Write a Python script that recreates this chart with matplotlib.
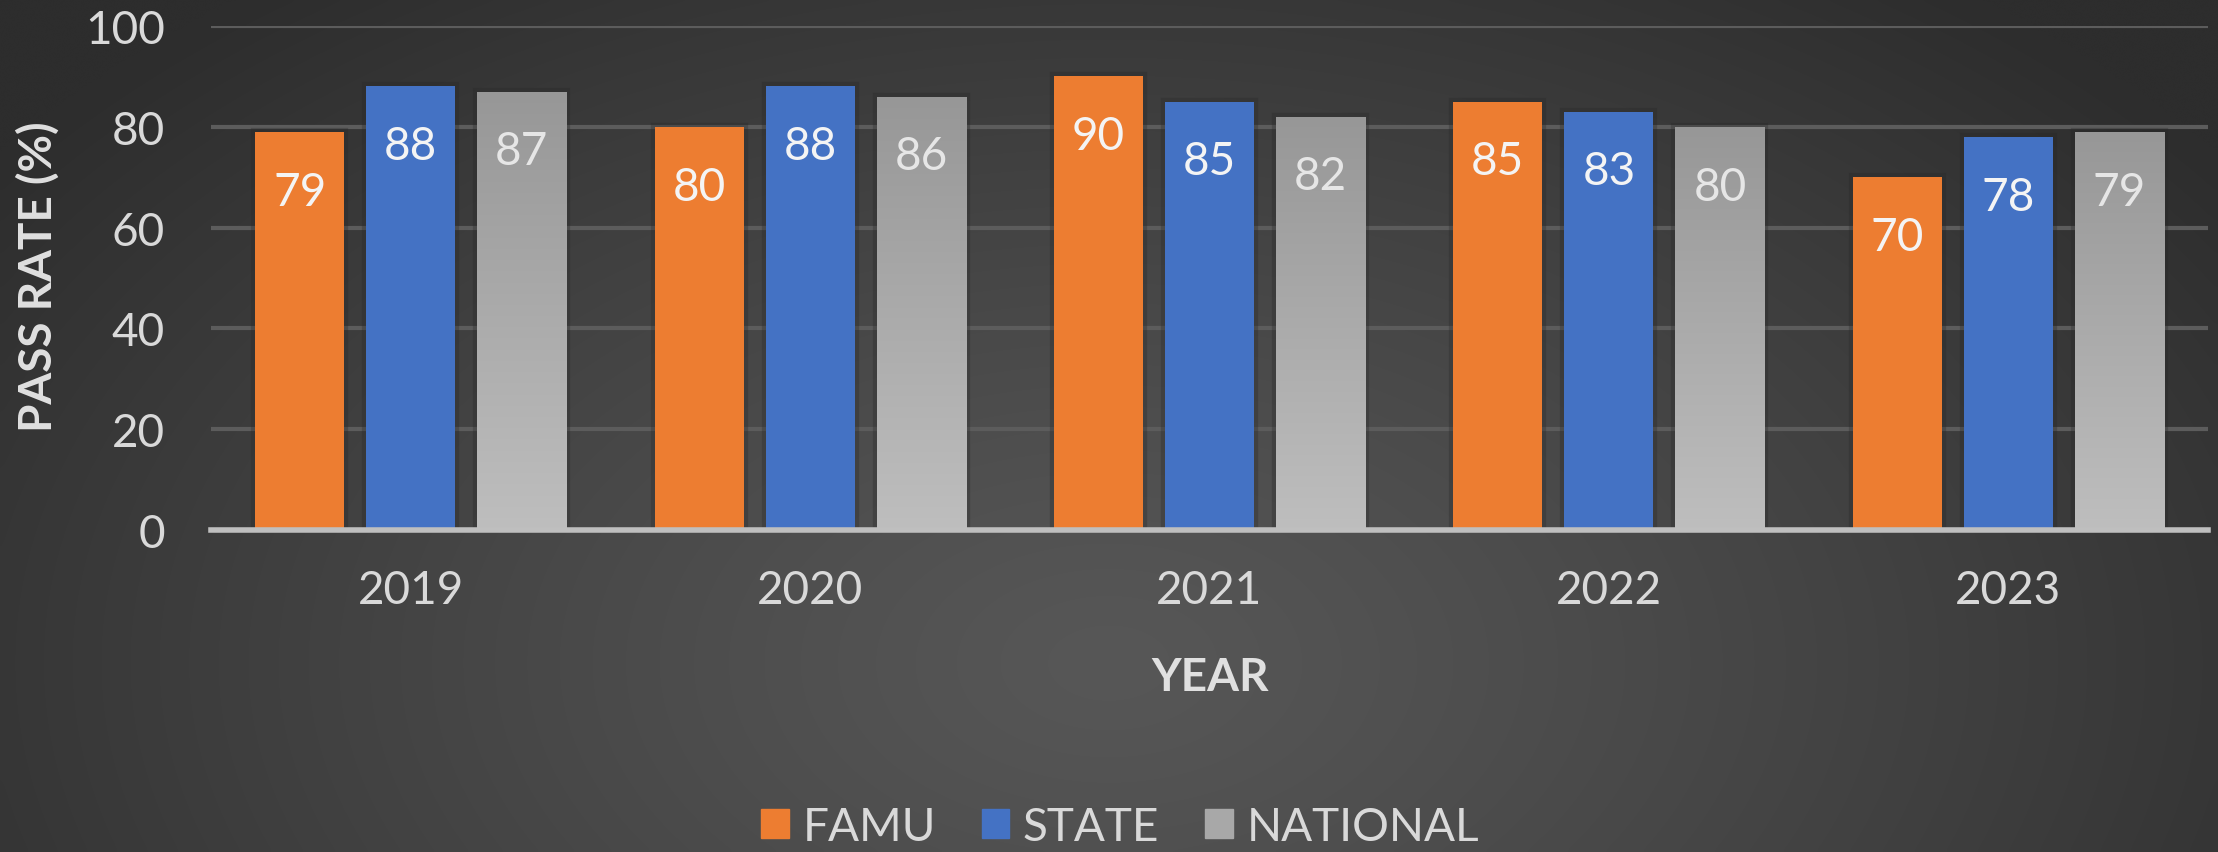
import numpy as np
import matplotlib
matplotlib.use('Agg')
import matplotlib.pyplot as plt
import matplotlib.patheffects as pe
from matplotlib.patches import Patch

plt.rcParams['font.family'] = ['Lato', 'DejaVu Sans']

# Datos
years = ['2019', '2020', '2021', '2022', '2023']
famu = [79, 80, 90, 85, 70]
state = [88, 88, 85, 83, 78]
national = [87, 86, 82, 80, 79]
series_names = ['FAMU', 'STATE', 'NATIONAL']
yticks = [0, 20, 40, 60, 80, 100]

c_orange = '#ED7D31'
c_blue = '#4472C4'
c_gray = '#B0B0B0'
txt = '#D9D9D9'
fs = 33

fig = plt.figure(figsize=(22.18, 8.53), dpi=100)

# Fondo con degradado radial
bg = fig.add_axes([0, 0, 1, 1], zorder=-10)
gx, gy = np.meshgrid(np.linspace(0, 1, 400), np.linspace(0, 1, 200))
d = np.sqrt(((gx - 0.5) / 0.62) ** 2 + ((gy - 0.78) / 1.0) ** 2)
d = np.clip(d, 0, 1)
lum = (0x57 - (0x57 - 0x2d) * d ** 1.2) / 255.0
img = np.dstack([lum, lum, lum])
bg.imshow(img, aspect='auto', extent=[0, 1, 1, 0], interpolation='bicubic')
bg.set_xlim(0, 1)
bg.set_ylim(1, 0)
bg.axis('off')

ax = fig.add_axes([211 / 2218, 1 - 531 / 853, (2208 - 211) / 2218, (531 - 27) / 853])
ax.set_facecolor('none')

x = np.arange(len(years))
w = 0.223
step = 0.278
shadow = [pe.Stroke(linewidth=6, foreground='#262626', alpha=0.3), pe.Normal()]

b1 = ax.bar(x - step, famu, w, color=c_orange, zorder=3)
b2 = ax.bar(x, state, w, color=c_blue, zorder=3)
b3 = ax.bar(x + step, national, w, color=c_gray, zorder=3)

for bars in (b1, b2, b3):
    for b in bars:
        b.set_path_effects(shadow)

# degradado vertical en barras grises
grad = np.linspace(0, 1, 256).reshape(-1, 1)
cmap_g = matplotlib.colors.LinearSegmentedColormap.from_list('g', ['#BEBEBE', '#979797'])
for b in b3:
    x0, y0 = b.get_x(), b.get_y()
    bw, bh = b.get_width(), b.get_height()
    im = ax.imshow(grad, cmap=cmap_g, aspect='auto',
                   extent=[x0, x0 + bw, y0 + bh, y0], zorder=3.5)
    im.set_clip_path(b)

# etiquetas de datos
for bars, vals, col in ((b1, famu, '#F4F4F4'), (b2, state, '#F4F4F4'), (b3, national, '#E6E6E6')):
    for b, v in zip(bars, vals):
        ax.annotate(str(v), (b.get_x() + b.get_width() / 2, v), xytext=(0, -43),
                    textcoords='offset points', ha='center', va='center',
                    fontsize=fs, color=col, zorder=5)

ax.set_xlim(-0.5, 4.5)
ax.set_ylim(0, 100)
ax.set_yticks(yticks)
ax.set_xticks(x)
ax.set_xticklabels(years)
ax.tick_params(axis='both', length=0, labelsize=fs, colors=txt)
ax.tick_params(axis='y', pad=33)
ax.tick_params(axis='x', pad=28)
ax.yaxis.grid(True, color='#5C5C5C', linewidth=3, zorder=0)
ax.set_axisbelow(True)
for s in ['top', 'right', 'left']:
    ax.spines[s].set_visible(False)
ax.spines['bottom'].set_color('#BFBFBF')
ax.spines['bottom'].set_linewidth(4)
ax.spines['bottom'].set_zorder(4)

fig.text(1210 / 2218, 1 - 678 / 853, 'YEAR', ha='center', va='center',
         fontsize=fs, fontweight='bold', color='#E0E0E0')
fig.text(38 / 2218, 1 - 277 / 853, 'PASS RATE (%)', ha='center', va='center',
         rotation=90, fontsize=fs, fontweight='bold', color='#E0E0E0')

handles = [Patch(color=c_orange), Patch(color=c_blue), Patch(color='#A8A8A8')]
leg = fig.legend(handles, series_names, loc='center', bbox_to_anchor=(1120 / 2218, 1 - 828 / 853),
                 ncol=3, frameon=False, fontsize=fs, handlelength=0.6, handleheight=0.6,
                 handletextpad=0.3, columnspacing=1.0, labelcolor=txt)

fig.savefig('out.png', dpi=100)
